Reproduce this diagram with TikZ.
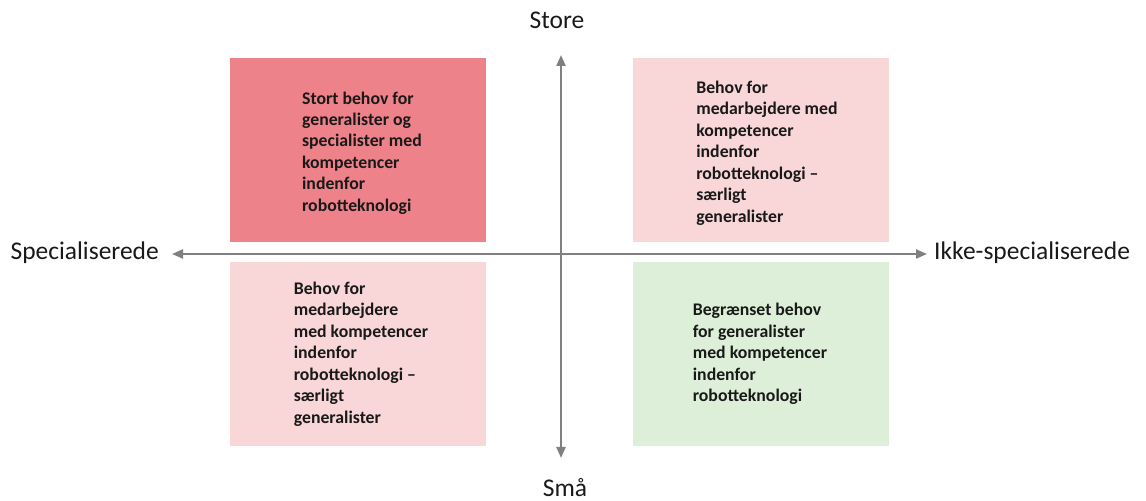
\documentclass[tikz,border=0pt]{standalone}
\usepackage{fontspec}
\setmainfont{Carlito}
\usetikzlibrary{arrows.meta}

\definecolor{stortred}{RGB}{238,130,138}
\definecolor{lightpink}{RGB}{249,214,216}
\definecolor{lightgreen}{RGB}{221,239,216}
\definecolor{axisgray}{RGB}{128,128,128}

\begin{document}
\begin{tikzpicture}[
  quadrant/.style={minimum width=5.12cm, minimum height=3.68cm, inner sep=0pt},
  boxtext/.style={align=left, font=\fontsize{10.1}{12.2}\selectfont\bfseries, text=black!90},
  axislabel/.style={font=\fontsize{14.5}{16}\selectfont, text=black!90},
  axis/.style={{Triangle[length=0.22cm,width=0.18cm]}-{Triangle[length=0.22cm,width=0.18cm]}, line width=1.3pt, color=axisgray}
]
\useasboundingbox (0,0) rectangle (22.92,10.02);

% NODES %%%%%%%%%%%%%%%%%%%%%%%%%%%%%%%%%%%%%%%%%%%%%%%%%%%%%%%%%%%%%%%%%%

\node[quadrant, fill=stortred] (Q1) at (7.16,7.02) {};
\node[quadrant, fill=lightpink] (Q2) at (15.22,7.02) {};
\node[quadrant, fill=lightpink] (Q3) at (7.16,2.94) {};
\node[quadrant, fill=lightgreen] (Q4) at (15.22,2.94) {};

\coordinate (W) at (3.44,4.94);
\coordinate (E) at (18.54,4.94);
\coordinate (N) at (11.22,8.92);
\coordinate (S) at (11.22,0.86);

% LINKS %%%%%%%%%%%%%%%%%%%%%%%%%%%%%%%%%%%%%%%%%%%%%%%%%%%%%%%%%%%%%%%%%%

\draw[axis] (W) -- (E);
\draw[axis] (S) -- (N);

% ETIQUETTES

\node[boxtext] (T1) at (7.24,6.96) {Stort behov for\\generalister og\\specialister med\\kompetencer\\indenfor\\robotteknologi};
\node[boxtext] (T2) at (15.34,6.96) {Behov for\\medarbejdere med\\kompetencer\\indenfor\\robotteknologi --\\særligt\\generalister};
\node[boxtext] (T3) at (7.22,2.94) {Behov for\\medarbejdere\\med kompetencer\\indenfor\\robotteknologi --\\særligt\\generalister};
\node[boxtext] (T4) at (15.20,2.94) {Begrænset behov\\for generalister\\med kompetencer\\indenfor\\robotteknologi};

\node[axislabel] (store) at (11.14,9.62) {Store};
\node[axislabel] (smaa) at (11.30,0.26) {Små};
\node[axislabel, anchor=east] (spec) at (3.30,4.96) {Specialiserede};
\node[axislabel, anchor=west] (ikke) at (18.56,4.96) {Ikke-specialiserede};

\end{tikzpicture}
\end{document}
